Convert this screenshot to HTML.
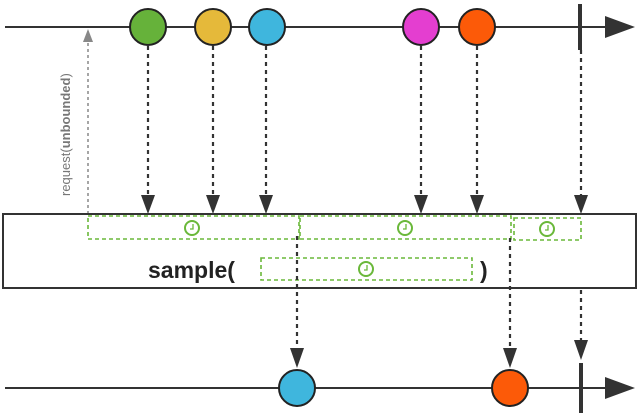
<!DOCTYPE html>
<html><head><style>body{margin:0;background:#fff}svg{display:block}</style></head><body>
<svg width="640" height="415" viewBox="0 0 640 415" xmlns="http://www.w3.org/2000/svg" font-family="Liberation Sans, sans-serif">
<defs>
<marker id="a" markerWidth="10" markerHeight="12" refX="5" refY="12" orient="auto" markerUnits="userSpaceOnUse"><path d="M0,0 L10,0 L5,0 Z" fill="none"/></marker>
</defs>
<!-- top line -->
<line x1="5" y1="27" x2="610" y2="27" stroke="#333" stroke-width="2"/>
<path d="M605,16 L635,27 L605,38 Z" fill="#333"/>
<line x1="580" y1="4" x2="580" y2="50" stroke="#333" stroke-width="4"/>
<!-- vertical dotted arrows top -->
<g stroke="#333" stroke-width="2.2" stroke-dasharray="4,4">
<line x1="148" y1="46" x2="148" y2="196"/>
<line x1="213" y1="46" x2="213" y2="196"/>
<line x1="266" y1="46" x2="266" y2="196"/>
<line x1="421" y1="46" x2="421" y2="196"/>
<line x1="477" y1="46" x2="477" y2="196"/>
<line x1="581" y1="50" x2="581" y2="196"/>
</g>
<g fill="#333">
<path d="M141,195 L155,195 L148,214 Z"/>
<path d="M206,195 L220,195 L213,214 Z"/>
<path d="M259,195 L273,195 L266,214 Z"/>
<path d="M414,195 L428,195 L421,214 Z"/>
<path d="M470,195 L484,195 L477,214 Z"/>
<path d="M574,195 L588,195 L581,214 Z"/>
</g>
<!-- circles -->
<g stroke="#222" stroke-width="2">
<circle cx="148" cy="27" r="18" fill="#66b23a"/>
<circle cx="213" cy="27" r="18" fill="#e5b93a"/>
<circle cx="267" cy="27" r="18" fill="#3fb6dd"/>
<circle cx="421" cy="27" r="18" fill="#e43ed0"/>
<circle cx="477" cy="27" r="18" fill="#fc5a08"/>
</g>
<!-- request arrow -->
<line x1="88" y1="214" x2="88" y2="40" stroke="#888" stroke-width="1.5" stroke-dasharray="3,3"/>
<path d="M83,42 L93,42 L88,29 Z" fill="#888"/>
<text transform="translate(70,196) rotate(-90)" font-size="13" fill="#777">request(<tspan font-weight="bold">unbounded</tspan>)</text>
<!-- box -->
<rect x="3" y="214" width="633" height="74" fill="none" stroke="#333" stroke-width="2"/>
<g fill="none" stroke="#6ab83a" stroke-width="1.6" stroke-dasharray="4,3">
<rect x="88" y="216" width="211" height="23"/>
<rect x="300" y="216" width="211" height="23"/>
<rect x="514" y="218" width="67" height="22"/>
<rect x="261" y="258" width="211" height="22"/>
</g>
<g fill="none" stroke="#6ab83a" stroke-width="2">
<circle cx="192" cy="228" r="7"/><circle cx="405" cy="228" r="7"/><circle cx="547" cy="229" r="7"/><circle cx="366" cy="269" r="7"/>
</g>
<g stroke="#6ab83a" stroke-width="1.3" fill="none">
<path d="M193,224 V229 H190"/><path d="M406,224 V229 H403"/><path d="M548,225 V230 H545"/><path d="M367,265 V270 H364"/>
</g>
<text x="148" y="278" font-size="23" font-weight="bold" fill="#222">sample(</text>
<text x="480" y="278" font-size="23" font-weight="bold" fill="#222">)</text>
<!-- bottom arrows -->
<g stroke="#333" stroke-width="2.2" stroke-dasharray="4,4">
<line x1="297" y1="236" x2="297" y2="350"/>
<line x1="510" y1="238" x2="510" y2="350"/>
<line x1="581" y1="290" x2="581" y2="342"/>
</g>
<g fill="#333">
<path d="M290,348 L304,348 L297,368 Z"/>
<path d="M503,348 L517,348 L510,368 Z"/>
<path d="M574,340 L588,340 L581,360 Z"/>
</g>
<line x1="5" y1="388" x2="610" y2="388" stroke="#333" stroke-width="2"/>
<path d="M605,377 L635,388 L605,399 Z" fill="#333"/>
<line x1="581" y1="363" x2="581" y2="413" stroke="#333" stroke-width="4"/>
<g stroke="#222" stroke-width="2">
<circle cx="297" cy="388" r="18" fill="#3fb6dd"/>
<circle cx="510" cy="388" r="18" fill="#fc5a08"/>
</g>
</svg>
</body></html>
